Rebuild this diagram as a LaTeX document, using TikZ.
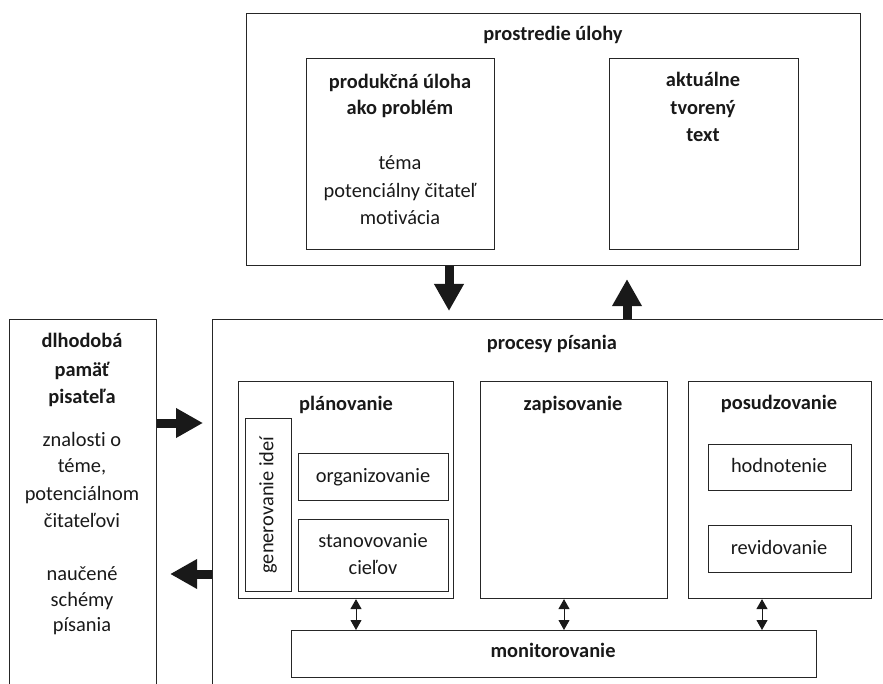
\documentclass[tikz,border=0pt]{standalone}
\usepackage{fontspec}
\setmainfont[Ligatures=NoCommon]{Carlito}
\usetikzlibrary{arrows.meta, positioning}

\tikzset{
  box/.style={draw=black!85, line width=1.1pt, rectangle, inner sep=0pt, anchor=north west},
  txt/.style={font=\fontsize{20.4}{27}\selectfont, text=black!90, align=center, inner sep=0pt, anchor=mid, yshift=-4pt},
  hd/.style={txt, font=\fontsize{20.4}{27}\selectfont\bfseries},
  fat/.style={line width=9pt, draw=black!90, -{Triangle[length=27pt,width=28pt]}},
  dbl/.style={line width=1pt, draw=black!90, {Triangle[length=10pt,width=11pt]}-{Triangle[length=10pt,width=11pt]}},
}

\begin{document}
\begin{tikzpicture}[x=1pt, y=-1pt]
  \useasboundingbox (0,0) rectangle (883,684);
  \clip (0,0) rectangle (883,684);

  % task environment
  \node[box, minimum width=614pt, minimum height=252pt] (task) at (246,13) {};
  \node[hd] (tasklbl) at (553,34) {prostredie úlohy};
  \node[box, minimum width=188pt, minimum height=191pt] (problem) at (306,58) {};
  \node[hd] (problbl) at (400,82) {produkčná úloha};
  \node[hd] (problbl2) at (400,108) {ako problém};
  \node[txt] (probtxt) at (400,163) {téma};
  \node[txt] (probtxt2) at (400,191) {potenciálny čitateľ};
  \node[txt] (probtxt3) at (400,218) {motivácia};
  \node[box, minimum width=189pt, minimum height=191pt] (curtext) at (609,58) {};
  \node[hd] (curlbl) at (703,80) {aktuálne};
  \node[hd] (curlbl2) at (703,108) {tvorený};
  \node[hd] (curlbl3) at (703,135) {text};

  % long-term memory
  \node[box, minimum width=147pt, minimum height=420pt] (memory) at (9,319) {};
  \node[hd] (memlbl) at (82,341) {dlhodobá};
  \node[hd] (memlbl2) at (82,370) {pamäť};
  \node[hd] (memlbl3) at (82,397) {pisateľa};
  \node[txt] (memtxt) at (82,440) {znalosti o};
  \node[txt] (memtxt2) at (82,466) {téme,};
  \node[txt] (memtxt3) at (82,494) {potenciálnom};
  \node[txt] (memtxt4) at (82,521) {čitateľovi};
  \node[txt] (memtxt5) at (82,574) {naučené};
  \node[txt] (memtxt6) at (82,600) {schémy};
  \node[txt] (memtxt7) at (82,625) {písania};

  % writing processes
  \node[box, minimum width=681pt, minimum height=420pt] (procesy) at (212,319) {};
  \node[hd] (proclbl) at (552,343) {procesy písania};

  \node[box, minimum width=215pt, minimum height=217pt] (planning) at (238,381) {};
  \node[hd] (planlbl) at (346,404) {plánovanie};
  \node[box, minimum width=46pt, minimum height=173pt] (genideas) at (245,418) {};
  \node[txt, yshift=4pt, rotate=90, anchor=center] (genlbl) at (268,505) {generovanie ideí};
  \node[box, minimum width=150pt, minimum height=47pt] (organizing) at (298,453) {};
  \node[txt] (orglbl) at (373,476) {organizovanie};
  \node[box, minimum width=150pt, minimum height=72pt] (goals) at (298,519) {};
  \node[txt] (goallbl) at (373,541) {stanovovanie};
  \node[txt] (goallbl2) at (373,568) {cieľov};

  \node[box, minimum width=187pt, minimum height=217pt] (translating) at (480,381) {};
  \node[hd] (translbl) at (573,404) {zapisovanie};

  \node[box, minimum width=183pt, minimum height=217pt] (reviewing) at (688,381) {};
  \node[hd] (revlbl) at (779,403) {posudzovanie};
  \node[box, minimum width=143pt, minimum height=46pt] (evaluating) at (708,444) {};
  \node[txt] (evallbl) at (779,466) {hodnotenie};
  \node[box, minimum width=143pt, minimum height=47pt] (revising) at (708,525) {};
  \node[txt] (revislbl) at (779,548) {revidovanie};

  \node[box, minimum width=525pt, minimum height=47pt] (monitor) at (291,630) {};
  \node[hd] (monlbl) at (553,651) {monitorovanie};

  % arrows
  \coordinate (dn) at (449,0);
  \coordinate (up) at (627,0);
  \coordinate (inA) at (0,423);
  \coordinate (outA) at (0,574);
  \draw[fat, shorten >=8pt] (task.south -| dn) -- (procesy.north -| dn);
  \draw[fat, shorten >=13pt] (procesy.north -| up) -- (task.south -| up);
  \draw[fat, shorten >=9pt] (memory.east |- inA) -- (procesy.west |- inA);
  \draw[fat, shorten >=13pt] (procesy.west |- outA) -- (memory.east |- outA);

  \coordinate (m1) at (356,0);
  \coordinate (m2) at (564,0);
  \coordinate (m3) at (762,0);
  \draw[dbl] (planning.south -| m1) -- (monitor.north -| m1);
  \draw[dbl] (translating.south -| m2) -- (monitor.north -| m2);
  \draw[dbl] (reviewing.south -| m3) -- (monitor.north -| m3);
\end{tikzpicture}
\end{document}
